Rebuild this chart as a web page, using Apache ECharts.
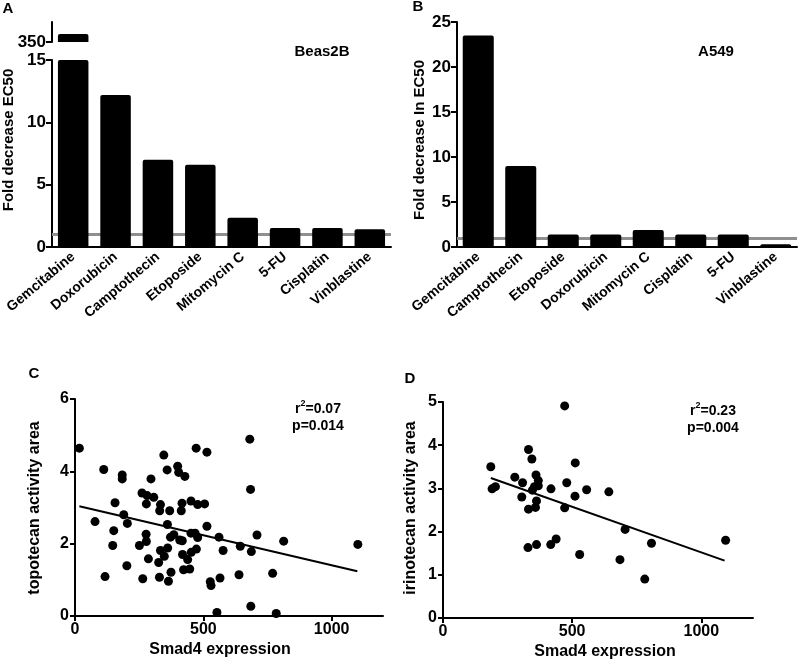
<!DOCTYPE html>
<html>
<head>
<meta charset="UTF-8">
<title>Smad4 chemosensitivity</title>
<script src="https://cdn.jsdelivr.net/npm/echarts@6/dist/echarts.min.js"></script>
<style>
  html, body { margin: 0; padding: 0; background: #fff; }
  #main { width: 800px; height: 668px; }
</style>
</head>
<body>
<div id="main"></div>
<script type="text/javascript">
// panel A - Beas2B
var drugsA = ['Gemcitabine', 'Doxorubicin', 'Camptothecin', 'Etoposide', 'Mitomycin C', '5-FU', 'Cisplatin', 'Vinblastine'];
var foldA = [370, 12.2, 7.0, 6.6, 2.35, 1.52, 1.52, 1.42];
// panel B - A549
var drugsB = ['Gemcitabine', 'Camptothecin', 'Etoposide', 'Doxorubicin', 'Mitomycin C', 'Cisplatin', '5-FU', 'Vinblastine'];
var foldB = [23.5, 9.0, 1.4, 1.4, 1.9, 1.4, 1.4, 0.3];
var refLevel = 1;

// panel C - topotecan vs Smad4 [smad4, activity area]
var topotecan = [
  [17, 4.64], [112, 4.05], [117, 1.09], [78, 2.61], [156, 3.13], [151, 2.36], [147, 1.95],
  [184, 3.90], [184, 3.79], [190, 2.80], [204, 2.56], [202, 1.39], [261, 3.40], [296, 3.79],
  [281, 3.33], [307, 3.28], [278, 3.10], [333, 3.08], [330, 2.91], [277, 2.26], [278, 2.06],
  [251, 1.95], [264, 1.03], [286, 1.58], [329, 1.07], [326, 1.48], [333, 1.81], [346, 4.45],
  [359, 4.04], [369, 2.91], [360, 2.53], [372, 2.18], [385, 2.25], [361, 1.88], [348, 1.65],
  [374, 1.21], [364, 0.96], [400, 4.14], [404, 3.97], [428, 3.86], [417, 3.12], [414, 2.91],
  [408, 2.10], [418, 2.08], [419, 1.70], [439, 1.56], [423, 1.28], [447, 1.30], [452, 2.29],
  [468, 2.29], [478, 2.17], [453, 1.76], [473, 1.85], [472, 4.64], [452, 3.18], [478, 3.08],
  [505, 3.10], [514, 4.53], [514, 2.48], [561, 2.18], [577, 1.81], [527, 0.95], [530, 0.84],
  [565, 1.05], [553, 0.10], [644, 1.93], [639, 1.14], [681, 4.89], [684, 3.50], [687, 1.78],
  [709, 2.24], [685, 0.27], [770, 1.18], [784, 0.07], [813, 2.07], [1102, 1.98]
];
var fitC = { intercept: 3.06, slope: -0.001657, from: 17, to: 1100 };

// panel D - irinotecan vs Smad4
var irinotecan = [
  [185, 3.50], [190, 2.99], [203, 3.04], [278, 3.26], [308, 3.13], [305, 2.80], [331, 3.90],
  [344, 3.68], [331, 2.52], [329, 1.63], [360, 3.31], [369, 3.18], [346, 2.96], [354, 3.04],
  [369, 3.06], [362, 2.71], [358, 2.56], [362, 1.70], [418, 2.99], [417, 1.70], [438, 1.83],
  [471, 4.91], [471, 2.55], [479, 3.13], [512, 3.59], [511, 2.82], [529, 1.47], [556, 2.97],
  [642, 2.92], [685, 1.35], [705, 2.05], [781, 0.90], [807, 1.73], [1094, 1.80]
];
var fitD = { intercept: 3.63, slope: -0.002111, from: 185, to: 1090 };
var smadTicks = [0, 500, 1000];

var FONT = 'Liberation Sans, Arial, sans-serif';
var myChart = echarts.init(document.getElementById('main'));

function fitLine(f) {
  return [[f.from, f.intercept + f.slope * f.from], [f.to, f.intercept + f.slope * f.to]];
}

var axisLine = { show: true, lineStyle: { color: '#000', width: 2 } };
var tick = { show: true, length: 5, lineStyle: { color: '#000', width: 2 } };
function numLabel(size) {
  return { color: '#000', fontFamily: FONT, fontWeight: 'bold', fontSize: size, margin: 6,
           formatter: function (v) { return String(v); } };
}
var catLabel = { color: '#000', fontFamily: FONT, fontWeight: 'bold', fontSize: 14, rotate: 40, margin: 8, interval: 0 };

function txt(x, y, text, size, rot) {
  return {
    type: 'text', x: x, y: y, rotation: rot || 0,
    style: { text: text, fill: '#000', font: 'bold ' + size + 'px ' + FONT, textAlign: 'center', textVerticalAlign: 'middle' }
  };
}
function stat(x, y, r2, p) {
  return {
    type: 'text', x: x, y: y,
    style: {
      text: '{a|r}{s|2}{a|=' + r2 + '}\n{a|p=' + p + '}',
      textAlign: 'center', textVerticalAlign: 'top', fill: '#000',
      rich: {
        a: { fontFamily: FONT, fontWeight: 'bold', fontSize: 14, lineHeight: 17, verticalAlign: 'bottom' },
        s: { fontFamily: FONT, fontWeight: 'bold', fontSize: 9, lineHeight: 17, verticalAlign: 'top', padding: [0, 0, 6, 0] }
      }
    }
  };
}
function smadAxis(grid) {
  return {
    gridIndex: grid, type: 'value', min: 0, max: 1200, axisLine: axisLine, splitLine: { show: false },
    axisTick: Object.assign({}, tick, { customValues: smadTicks }),
    axisLabel: Object.assign(numLabel(16), { customValues: smadTicks })
  };
}

var barStyle = { color: '#000', borderRadius: [2, 2, 0, 0] };
var refMark = {
  silent: true, symbol: 'none', z: 1, label: { show: false },
  lineStyle: { color: '#8f8f8f', width: 3, type: 'solid' },
  data: [{ yAxis: refLevel }]
};

var option = {
  backgroundColor: '#fff',
  animation: false,
  grid: [
    { left: 52, top: 22, width: 339, height: 20 },
    { left: 52, top: 60, width: 339, height: 187 },
    { left: 457, top: 22, width: 340, height: 225 },
    { left: 75, top: 399, width: 308, height: 217 },
    { left: 443, top: 402, width: 310, height: 216 }
  ],
  xAxis: [
    { gridIndex: 0, type: 'category', data: drugsA, show: false },
    { gridIndex: 1, type: 'category', data: drugsA, axisLine: axisLine, axisTick: { show: false }, axisLabel: catLabel },
    { gridIndex: 2, type: 'category', data: drugsB, axisLine: axisLine, axisTick: { show: false }, axisLabel: catLabel },
    smadAxis(3),
    smadAxis(4)
  ],
  yAxis: [
    { gridIndex: 0, type: 'value', min: 350, max: 400, axisLine: axisLine, splitLine: { show: false },
      axisTick: { show: true, length: 6, lineStyle: { color: '#000', width: 2 }, customValues: [350] },
      axisLabel: Object.assign(numLabel(17), { customValues: [350] }) },
    { gridIndex: 1, type: 'value', min: 0, max: 15, interval: 5, axisLine: axisLine, splitLine: { show: false },
      axisTick: Object.assign({}, tick, { length: 6 }), axisLabel: numLabel(17) },
    { gridIndex: 2, type: 'value', min: 0, max: 25, interval: 5, axisLine: axisLine, splitLine: { show: false },
      axisTick: Object.assign({}, tick, { length: 6 }), axisLabel: numLabel(17) },
    { gridIndex: 3, type: 'value', min: 0, max: 6, interval: 2, axisLine: axisLine, splitLine: { show: false },
      axisTick: tick, axisLabel: numLabel(16) },
    { gridIndex: 4, type: 'value', min: 0, max: 5, interval: 1, axisLine: axisLine, splitLine: { show: false },
      axisTick: tick, axisLabel: numLabel(16) }
  ],
  series: [
    { type: 'bar', xAxisIndex: 0, yAxisIndex: 0, data: foldA, barCategoryGap: '28%', clip: true, itemStyle: barStyle, z: 2 },
    { type: 'bar', xAxisIndex: 1, yAxisIndex: 1, data: foldA, barCategoryGap: '28%', clip: true, itemStyle: barStyle, z: 2,
      markLine: refMark },
    { type: 'bar', xAxisIndex: 2, yAxisIndex: 2, data: foldB, barCategoryGap: '27%', clip: true, itemStyle: barStyle, z: 2,
      markLine: refMark },
    { type: 'scatter', xAxisIndex: 3, yAxisIndex: 3, data: topotecan, symbolSize: 9, itemStyle: { color: '#000', opacity: 1 } },
    { type: 'line', xAxisIndex: 3, yAxisIndex: 3, data: fitLine(fitC), symbol: 'none', lineStyle: { color: '#000', width: 2 } },
    { type: 'scatter', xAxisIndex: 4, yAxisIndex: 4, data: irinotecan, symbolSize: 9, itemStyle: { color: '#000', opacity: 1 } },
    { type: 'line', xAxisIndex: 4, yAxisIndex: 4, data: fitLine(fitD), symbol: 'none', lineStyle: { color: '#000', width: 2 } }
  ],
  graphic: [
    txt(8, 9, 'A', 15), txt(418, 7, 'B', 15), txt(34, 374, 'C', 15), txt(410, 379, 'D', 15),
    txt(9, 140, 'Fold decrease EC50', 15, Math.PI / 2),
    txt(420, 140, 'Fold decrease In EC50', 15, Math.PI / 2),
    txt(35, 508, 'topotecan activity area', 16, Math.PI / 2),
    txt(411, 508, 'irinotecan activity area', 16, Math.PI / 2),
    txt(220, 650, 'Smad4 expression', 16),
    txt(605, 652, 'Smad4 expression', 16),
    txt(322, 52, 'Beas2B', 15),
    txt(716, 52, 'A549', 15),
    stat(318, 399, '0.07', '0.014'),
    stat(713, 401, '0.23', '0.004')
  ]
};

myChart.setOption(option);
</script>
</body>
</html>
